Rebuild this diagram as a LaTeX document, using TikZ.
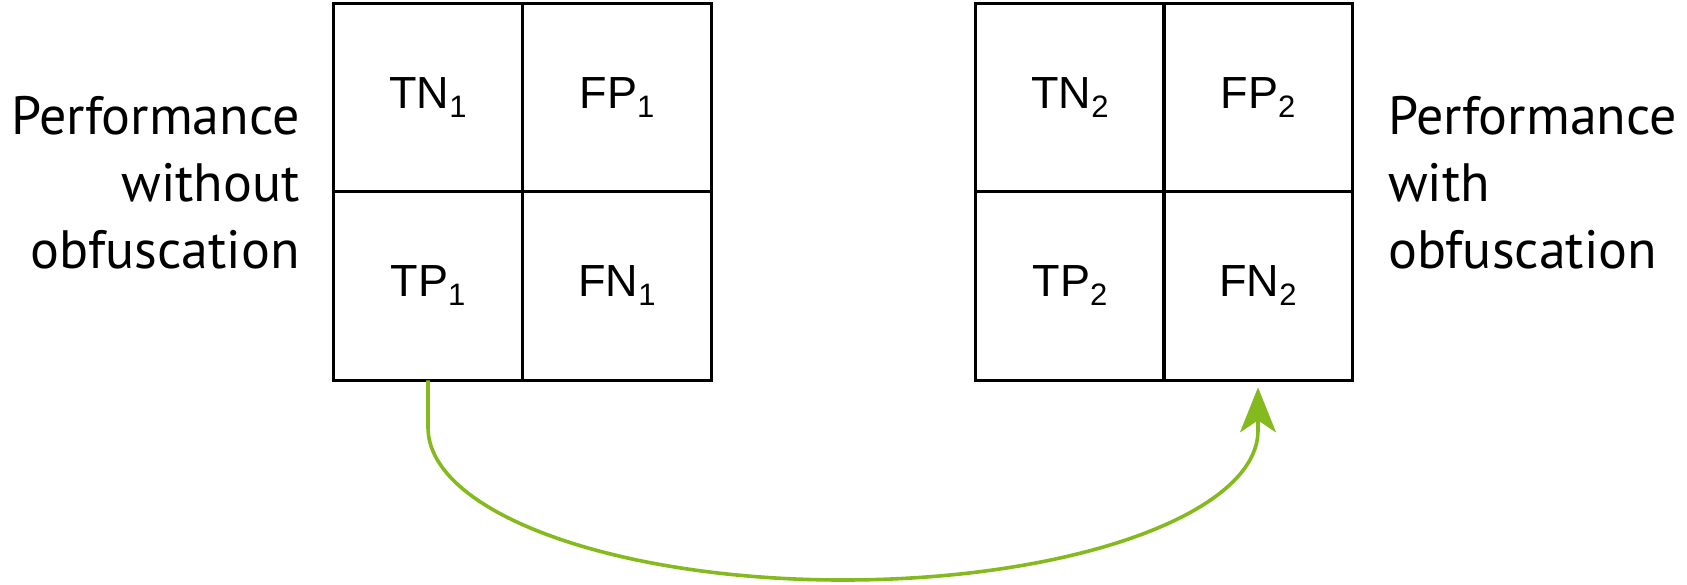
\documentclass[tikz,border=0pt]{standalone}
\usepackage{fontspec}
\setmainfont{Liberation Sans}
\newfontfamily\labelfont{PT Sans}
\usetikzlibrary{arrows.meta,calc}
\definecolor{arrowgreen}{RGB}{132,186,30}
\newcommand{\cellsub}[1]{\raisebox{-9pt}{\fontsize{31}{31}\selectfont #1}}
\tikzset{
  cell/.style={draw=black, line width=3pt, minimum width=188.7pt, minimum height=188.7pt,
    inner sep=0pt, outer sep=0pt, font=\fontsize{45}{45}\selectfont},
  sidelabel/.style={inner sep=0pt, font=\labelfont\fontsize{54}{67}\selectfont},
  flow/.style={draw=arrowgreen, line width=3.6pt,
    -{Stealth[length=45pt, width=36pt, inset=12pt]}}
}
\begin{document}
\begin{tikzpicture}[x=1pt, y=-1pt]
\useasboundingbox (0,0) rectangle (1687,584);
% left matrix
\node[cell] (TN1) at (428,97.5) {TN\cellsub{1}};
\node[cell] (FP1) at (617,97.5) {FP\cellsub{1}};
\node[cell] (TP1) at (428,286) {TP\cellsub{1}};
\node[cell] (FN1) at (617,286) {FN\cellsub{1}};
% right matrix
\node[cell] (TN2) at (1070,97.5) {TN\cellsub{2}};
\node[cell] (FP2) at (1258,97.5) {FP\cellsub{2}};
\node[cell] (TP2) at (1070,286) {TP\cellsub{2}};
\node[cell] (FN2) at (1258,286) {FN\cellsub{2}};
% labels (base anchor = last line)
\node[sidelabel, anchor=base east, align=right] (L1) at (300,268) {Performance\\without\\obfuscation};
\node[sidelabel, anchor=base west, align=left] (L2) at (1388,268) {Performance\\with\\obfuscation};
% arrow
\coordinate (a1) at ($(TP1.south)+(0,47)$);
\coordinate (low) at (843,580);
\coordinate (a2) at ($(FN2.south)+(0,50)$);
\draw[flow, shorten >=7pt] (TP1.south) -- (a1)
  .. controls ($(a1)+(0,85)$) and ($(low)+(-229,0)$) .. (low)
  .. controls ($(low)+(229,0)$) and ($(a2)+(0,83)$) .. (a2)
  -- (FN2.south);
\end{tikzpicture}
\end{document}
